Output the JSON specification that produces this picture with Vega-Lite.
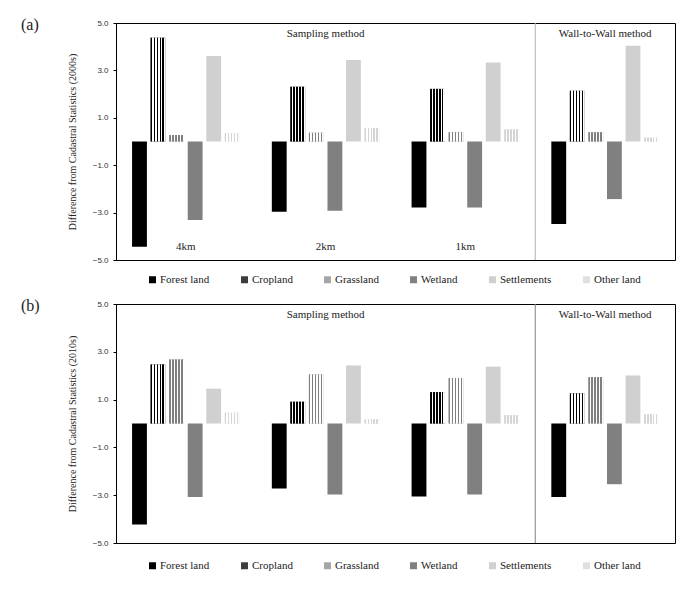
{
  "$schema": "https://vega.github.io/schema/vega-lite/v6.json",
  "padding": {"left": 20, "top": 16, "right": 5, "bottom": 5},
  "datasets": {
    "bars": [
      {"panel": "a", "group": "4km", "type": "Forest land", "value": -4.44},
      {"panel": "a", "group": "4km", "type": "Cropland", "value": 4.38},
      {"panel": "a", "group": "4km", "type": "Grassland", "value": 0.27},
      {"panel": "a", "group": "4km", "type": "Wetland", "value": -3.31},
      {"panel": "a", "group": "4km", "type": "Settlements", "value": 3.61},
      {"panel": "a", "group": "4km", "type": "Other land", "value": 0.35},
      {"panel": "a", "group": "2km", "type": "Forest land", "value": -2.96},
      {"panel": "a", "group": "2km", "type": "Cropland", "value": 2.31},
      {"panel": "a", "group": "2km", "type": "Grassland", "value": 0.37},
      {"panel": "a", "group": "2km", "type": "Wetland", "value": -2.92},
      {"panel": "a", "group": "2km", "type": "Settlements", "value": 3.44},
      {"panel": "a", "group": "2km", "type": "Other land", "value": 0.56},
      {"panel": "a", "group": "1km", "type": "Forest land", "value": -2.79},
      {"panel": "a", "group": "1km", "type": "Cropland", "value": 2.22},
      {"panel": "a", "group": "1km", "type": "Grassland", "value": 0.39},
      {"panel": "a", "group": "1km", "type": "Wetland", "value": -2.79},
      {"panel": "a", "group": "1km", "type": "Settlements", "value": 3.33},
      {"panel": "a", "group": "1km", "type": "Other land", "value": 0.51},
      {"panel": "a", "group": "Wall-to-Wall", "type": "Forest land", "value": -3.48},
      {"panel": "a", "group": "Wall-to-Wall", "type": "Cropland", "value": 2.14},
      {"panel": "a", "group": "Wall-to-Wall", "type": "Grassland", "value": 0.39},
      {"panel": "a", "group": "Wall-to-Wall", "type": "Wetland", "value": -2.43},
      {"panel": "a", "group": "Wall-to-Wall", "type": "Settlements", "value": 4.04},
      {"panel": "a", "group": "Wall-to-Wall", "type": "Other land", "value": 0.16},
      {"panel": "b", "group": "4km", "type": "Forest land", "value": -4.23},
      {"panel": "b", "group": "4km", "type": "Cropland", "value": 2.47},
      {"panel": "b", "group": "4km", "type": "Grassland", "value": 2.68},
      {"panel": "b", "group": "4km", "type": "Wetland", "value": -3.08},
      {"panel": "b", "group": "4km", "type": "Settlements", "value": 1.46},
      {"panel": "b", "group": "4km", "type": "Other land", "value": 0.45},
      {"panel": "b", "group": "2km", "type": "Forest land", "value": -2.72},
      {"panel": "b", "group": "2km", "type": "Cropland", "value": 0.91},
      {"panel": "b", "group": "2km", "type": "Grassland", "value": 2.05},
      {"panel": "b", "group": "2km", "type": "Wetland", "value": -2.97},
      {"panel": "b", "group": "2km", "type": "Settlements", "value": 2.43},
      {"panel": "b", "group": "2km", "type": "Other land", "value": 0.17},
      {"panel": "b", "group": "1km", "type": "Forest land", "value": -3.05},
      {"panel": "b", "group": "1km", "type": "Cropland", "value": 1.31},
      {"panel": "b", "group": "1km", "type": "Grassland", "value": 1.9},
      {"panel": "b", "group": "1km", "type": "Wetland", "value": -2.97},
      {"panel": "b", "group": "1km", "type": "Settlements", "value": 2.38},
      {"panel": "b", "group": "1km", "type": "Other land", "value": 0.35},
      {"panel": "b", "group": "Wall-to-Wall", "type": "Forest land", "value": -3.08},
      {"panel": "b", "group": "Wall-to-Wall", "type": "Cropland", "value": 1.26},
      {"panel": "b", "group": "Wall-to-Wall", "type": "Grassland", "value": 1.94},
      {"panel": "b", "group": "Wall-to-Wall", "type": "Wetland", "value": -2.54},
      {"panel": "b", "group": "Wall-to-Wall", "type": "Settlements", "value": 2.01},
      {"panel": "b", "group": "Wall-to-Wall", "type": "Other land", "value": 0.38}
    ]
  },
  "config": {
    "font": "Liberation Serif",
    "view": {"stroke": "#000000", "strokeWidth": 1},
    "axis": {
      "labelFont": "Liberation Sans", "labelFontSize": 8, "labelColor": "#333333",
      "titleFont": "Liberation Serif", "titleFontSize": 10, "titleFontWeight": "normal", "titleColor": "#222222",
      "tickSize": 3, "tickColor": "#000000", "domainColor": "#000000", "grid": false, "labelPadding": 5, "titlePadding": 15
    },
    "legend": {"orient": "none", "legendX": 31, "direction": "horizontal", "columns": 6, "gridAlign": "each", "columnPadding": 29, "symbolType": "square", "symbolSize": 49, "symbolStrokeWidth": 0, "labelFont": "Liberation Serif", "labelFontSize": 11, "labelColor": "#222222", "labelOffset": 2},
    "title": {"font": "Liberation Serif", "fontSize": 16, "fontWeight": "normal", "color": "#222222"}
  },
  "spacing": 11,
  "resolve": {"scale": {"color": "independent", "x": "independent", "y": "independent", "xOffset": "independent"}, "legend": {"color": "independent"}},
  "vconcat": [
    {
      "title": {"text": "(a)", "anchor": "start", "frame": "group", "orient": "top", "offset": 0, "dx": -95, "dy": 14},
      "width": 559, "height": 237,
      "data": {"name": "bars"},
      "transform": [{"filter": "datum.panel === 'a'"}],
      "encoding": {
        "x": {"field": "group", "type": "nominal", "scale": {"domain": ["4km", "2km", "1km", "Wall-to-Wall"], "paddingInner": 0.23, "paddingOuter": 0.115}, "axis": null}
      },
      "layer": [
        {
          "mark": {"type": "bar"},
          "encoding": {
            "xOffset": {"field": "type", "type": "nominal", "scale": {"domain": ["Forest land", "Cropland", "Grassland", "Wetland", "Settlements", "Other land"], "paddingInner": 0.2, "paddingOuter": 0}},
            "y": {"field": "value", "type": "quantitative", "scale": {"domain": [-5, 5], "nice": false}, "title": "Difference from Cadastral Statistics (2000s)",
              "axis": {"values": [-5, -4, -3, -2, -1, 0, 1, 2, 3, 4, 5], "labelExpr": "datum.value % 2 === 0 ? '' : format(datum.value, '.1f')"}},
            "color": {"field": "type", "type": "nominal", "scale": {"domain": ["Forest land", "Cropland", "Grassland", "Wetland", "Settlements", "Other land"], "range": ["#000000", "#3c3c3c", "#a6a6a6", "#808080", "#d0d0d0", "#e0e0e0"]},
              "legend": {"title": null, "legendY": 251}}
          }
        },
        {
          "transform": [{"filter": "datum.type === 'Cropland'"}],
          "mark": {"type": "bar", "fill": {"gradient": "linear", "x1": 0, "y1": 0, "x2": 1, "y2": 0, "stops": [{"offset": 0, "color": "#000000"}, {"offset": 0.1, "color": "#000000"}, {"offset": 0.1, "color": "#ffffff"}, {"offset": 0.2, "color": "#ffffff"}, {"offset": 0.2, "color": "#000000"}, {"offset": 0.3, "color": "#000000"}, {"offset": 0.3, "color": "#ffffff"}, {"offset": 0.4, "color": "#ffffff"}, {"offset": 0.4, "color": "#000000"}, {"offset": 0.5, "color": "#000000"}, {"offset": 0.5, "color": "#ffffff"}, {"offset": 0.6, "color": "#ffffff"}, {"offset": 0.6, "color": "#000000"}, {"offset": 0.7, "color": "#000000"}, {"offset": 0.7, "color": "#ffffff"}, {"offset": 0.8, "color": "#ffffff"}, {"offset": 0.8, "color": "#000000"}, {"offset": 0.9, "color": "#000000"}, {"offset": 0.9, "color": "#ffffff"}, {"offset": 1, "color": "#ffffff"}]}},
          "encoding": {"xOffset": {"field": "type", "type": "nominal"}, "y": {"field": "value", "type": "quantitative"}}
        },
        {
          "transform": [{"filter": "datum.type === 'Grassland'"}],
          "mark": {"type": "bar", "fill": {"gradient": "linear", "x1": 0, "y1": 0, "x2": 1, "y2": 0, "stops": [{"offset": 0, "color": "#7f7f7f"}, {"offset": 0.1, "color": "#7f7f7f"}, {"offset": 0.1, "color": "#ffffff"}, {"offset": 0.2, "color": "#ffffff"}, {"offset": 0.2, "color": "#7f7f7f"}, {"offset": 0.3, "color": "#7f7f7f"}, {"offset": 0.3, "color": "#ffffff"}, {"offset": 0.4, "color": "#ffffff"}, {"offset": 0.4, "color": "#7f7f7f"}, {"offset": 0.5, "color": "#7f7f7f"}, {"offset": 0.5, "color": "#ffffff"}, {"offset": 0.6, "color": "#ffffff"}, {"offset": 0.6, "color": "#7f7f7f"}, {"offset": 0.7, "color": "#7f7f7f"}, {"offset": 0.7, "color": "#ffffff"}, {"offset": 0.8, "color": "#ffffff"}, {"offset": 0.8, "color": "#7f7f7f"}, {"offset": 0.9, "color": "#7f7f7f"}, {"offset": 0.9, "color": "#ffffff"}, {"offset": 1, "color": "#ffffff"}]}},
          "encoding": {"xOffset": {"field": "type", "type": "nominal"}, "y": {"field": "value", "type": "quantitative"}}
        },
        {
          "transform": [{"filter": "datum.type === 'Other land'"}],
          "mark": {"type": "bar", "fill": {"gradient": "linear", "x1": 0, "y1": 0, "x2": 1, "y2": 0, "stops": [{"offset": 0, "color": "#d4d4d4"}, {"offset": 0.1, "color": "#d4d4d4"}, {"offset": 0.1, "color": "#ffffff"}, {"offset": 0.2, "color": "#ffffff"}, {"offset": 0.2, "color": "#d4d4d4"}, {"offset": 0.3, "color": "#d4d4d4"}, {"offset": 0.3, "color": "#ffffff"}, {"offset": 0.4, "color": "#ffffff"}, {"offset": 0.4, "color": "#d4d4d4"}, {"offset": 0.5, "color": "#d4d4d4"}, {"offset": 0.5, "color": "#ffffff"}, {"offset": 0.6, "color": "#ffffff"}, {"offset": 0.6, "color": "#d4d4d4"}, {"offset": 0.7, "color": "#d4d4d4"}, {"offset": 0.7, "color": "#ffffff"}, {"offset": 0.8, "color": "#ffffff"}, {"offset": 0.8, "color": "#d4d4d4"}, {"offset": 0.9, "color": "#d4d4d4"}, {"offset": 0.9, "color": "#ffffff"}, {"offset": 1, "color": "#ffffff"}]}},
          "encoding": {"xOffset": {"field": "type", "type": "nominal"}, "y": {"field": "value", "type": "quantitative"}}
        },
        {
          "transform": [{"filter": "datum.type === 'Forest land' && datum.group === '4km'"}],
          "mark": {"type": "rule", "color": "#8c8c8c", "strokeWidth": 1},
          "encoding": {"y": {"datum": 0}}
        },
        {
          "transform": [{"filter": "datum.type === 'Forest land' && datum.group === 'Wall-to-Wall'"}],
          "mark": {"type": "rule", "color": "#b0b0b0", "strokeWidth": 1},
          "encoding": {"x": {"datum": "Wall-to-Wall", "bandPosition": -0.1494}}
        },
        {
          "transform": [{"filter": "datum.type === 'Forest land' && datum.group !== 'Wall-to-Wall'"}],
          "mark": {"type": "text", "font": "Liberation Serif", "fontSize": 11, "fill": "#222222", "baseline": "middle"},
          "encoding": {"text": {"field": "group"}, "y": {"datum": -4.45}}
        },
        {
          "transform": [{"filter": "datum.type === 'Forest land' && datum.group === '2km'"}],
          "mark": {"type": "text", "text": "Sampling method", "font": "Liberation Serif", "fontSize": 11, "fill": "#222222", "baseline": "middle"},
          "encoding": {"x": {"datum": "2km", "bandPosition": 0.5}, "y": {"datum": 4.55}}
        },
        {
          "transform": [{"filter": "datum.type === 'Forest land' && datum.group === 'Wall-to-Wall'"}],
          "mark": {"type": "text", "text": "Wall-to-Wall method", "font": "Liberation Serif", "fontSize": 11, "fill": "#222222", "baseline": "middle"},
          "encoding": {"x": {"datum": "Wall-to-Wall", "bandPosition": 0.5}, "y": {"datum": 4.55}}
        }
      ]
    },
    {
      "title": {"text": "(b)", "anchor": "start", "frame": "group", "orient": "top", "offset": 0, "dx": -95, "dy": 14},
      "width": 559, "height": 239,
      "data": {"name": "bars"},
      "transform": [{"filter": "datum.panel === 'b'"}],
      "encoding": {
        "x": {"field": "group", "type": "nominal", "scale": {"domain": ["4km", "2km", "1km", "Wall-to-Wall"], "paddingInner": 0.23, "paddingOuter": 0.115}, "axis": null}
      },
      "layer": [
        {
          "mark": {"type": "bar"},
          "encoding": {
            "xOffset": {"field": "type", "type": "nominal", "scale": {"domain": ["Forest land", "Cropland", "Grassland", "Wetland", "Settlements", "Other land"], "paddingInner": 0.2, "paddingOuter": 0}},
            "y": {"field": "value", "type": "quantitative", "scale": {"domain": [-5, 5], "nice": false}, "title": "Difference from Cadastral Statistics (2010s)",
              "axis": {"values": [-5, -4, -3, -2, -1, 0, 1, 2, 3, 4, 5], "labelExpr": "datum.value % 2 === 0 ? '' : format(datum.value, '.1f')"}},
            "color": {"field": "type", "type": "nominal", "scale": {"domain": ["Forest land", "Cropland", "Grassland", "Wetland", "Settlements", "Other land"], "range": ["#000000", "#3c3c3c", "#a6a6a6", "#808080", "#d0d0d0", "#e0e0e0"]},
              "legend": {"title": null, "legendY": 256}}
          }
        },
        {
          "transform": [{"filter": "datum.type === 'Cropland'"}],
          "mark": {"type": "bar", "fill": {"gradient": "linear", "x1": 0, "y1": 0, "x2": 1, "y2": 0, "stops": [{"offset": 0, "color": "#000000"}, {"offset": 0.1, "color": "#000000"}, {"offset": 0.1, "color": "#ffffff"}, {"offset": 0.2, "color": "#ffffff"}, {"offset": 0.2, "color": "#000000"}, {"offset": 0.3, "color": "#000000"}, {"offset": 0.3, "color": "#ffffff"}, {"offset": 0.4, "color": "#ffffff"}, {"offset": 0.4, "color": "#000000"}, {"offset": 0.5, "color": "#000000"}, {"offset": 0.5, "color": "#ffffff"}, {"offset": 0.6, "color": "#ffffff"}, {"offset": 0.6, "color": "#000000"}, {"offset": 0.7, "color": "#000000"}, {"offset": 0.7, "color": "#ffffff"}, {"offset": 0.8, "color": "#ffffff"}, {"offset": 0.8, "color": "#000000"}, {"offset": 0.9, "color": "#000000"}, {"offset": 0.9, "color": "#ffffff"}, {"offset": 1, "color": "#ffffff"}]}},
          "encoding": {"xOffset": {"field": "type", "type": "nominal"}, "y": {"field": "value", "type": "quantitative"}}
        },
        {
          "transform": [{"filter": "datum.type === 'Grassland'"}],
          "mark": {"type": "bar", "fill": {"gradient": "linear", "x1": 0, "y1": 0, "x2": 1, "y2": 0, "stops": [{"offset": 0, "color": "#7f7f7f"}, {"offset": 0.1, "color": "#7f7f7f"}, {"offset": 0.1, "color": "#ffffff"}, {"offset": 0.2, "color": "#ffffff"}, {"offset": 0.2, "color": "#7f7f7f"}, {"offset": 0.3, "color": "#7f7f7f"}, {"offset": 0.3, "color": "#ffffff"}, {"offset": 0.4, "color": "#ffffff"}, {"offset": 0.4, "color": "#7f7f7f"}, {"offset": 0.5, "color": "#7f7f7f"}, {"offset": 0.5, "color": "#ffffff"}, {"offset": 0.6, "color": "#ffffff"}, {"offset": 0.6, "color": "#7f7f7f"}, {"offset": 0.7, "color": "#7f7f7f"}, {"offset": 0.7, "color": "#ffffff"}, {"offset": 0.8, "color": "#ffffff"}, {"offset": 0.8, "color": "#7f7f7f"}, {"offset": 0.9, "color": "#7f7f7f"}, {"offset": 0.9, "color": "#ffffff"}, {"offset": 1, "color": "#ffffff"}]}},
          "encoding": {"xOffset": {"field": "type", "type": "nominal"}, "y": {"field": "value", "type": "quantitative"}}
        },
        {
          "transform": [{"filter": "datum.type === 'Other land'"}],
          "mark": {"type": "bar", "fill": {"gradient": "linear", "x1": 0, "y1": 0, "x2": 1, "y2": 0, "stops": [{"offset": 0, "color": "#d4d4d4"}, {"offset": 0.1, "color": "#d4d4d4"}, {"offset": 0.1, "color": "#ffffff"}, {"offset": 0.2, "color": "#ffffff"}, {"offset": 0.2, "color": "#d4d4d4"}, {"offset": 0.3, "color": "#d4d4d4"}, {"offset": 0.3, "color": "#ffffff"}, {"offset": 0.4, "color": "#ffffff"}, {"offset": 0.4, "color": "#d4d4d4"}, {"offset": 0.5, "color": "#d4d4d4"}, {"offset": 0.5, "color": "#ffffff"}, {"offset": 0.6, "color": "#ffffff"}, {"offset": 0.6, "color": "#d4d4d4"}, {"offset": 0.7, "color": "#d4d4d4"}, {"offset": 0.7, "color": "#ffffff"}, {"offset": 0.8, "color": "#ffffff"}, {"offset": 0.8, "color": "#d4d4d4"}, {"offset": 0.9, "color": "#d4d4d4"}, {"offset": 0.9, "color": "#ffffff"}, {"offset": 1, "color": "#ffffff"}]}},
          "encoding": {"xOffset": {"field": "type", "type": "nominal"}, "y": {"field": "value", "type": "quantitative"}}
        },
        {
          "transform": [{"filter": "datum.type === 'Forest land' && datum.group === '4km'"}],
          "mark": {"type": "rule", "color": "#000000", "strokeWidth": 1},
          "encoding": {"y": {"datum": 0}}
        },
        {
          "transform": [{"filter": "datum.type === 'Forest land' && datum.group === 'Wall-to-Wall'"}],
          "mark": {"type": "rule", "color": "#808080", "strokeWidth": 1},
          "encoding": {"x": {"datum": "Wall-to-Wall", "bandPosition": -0.1494}}
        },
        {
          "transform": [{"filter": "datum.type === 'Forest land' && datum.group === '2km'"}],
          "mark": {"type": "text", "text": "Sampling method", "font": "Liberation Serif", "fontSize": 11, "fill": "#222222", "baseline": "middle"},
          "encoding": {"x": {"datum": "2km", "bandPosition": 0.5}, "y": {"datum": 4.55}}
        },
        {
          "transform": [{"filter": "datum.type === 'Forest land' && datum.group === 'Wall-to-Wall'"}],
          "mark": {"type": "text", "text": "Wall-to-Wall method", "font": "Liberation Serif", "fontSize": 11, "fill": "#222222", "baseline": "middle"},
          "encoding": {"x": {"datum": "Wall-to-Wall", "bandPosition": 0.5}, "y": {"datum": 4.55}}
        }
      ]
    }
  ]
}
